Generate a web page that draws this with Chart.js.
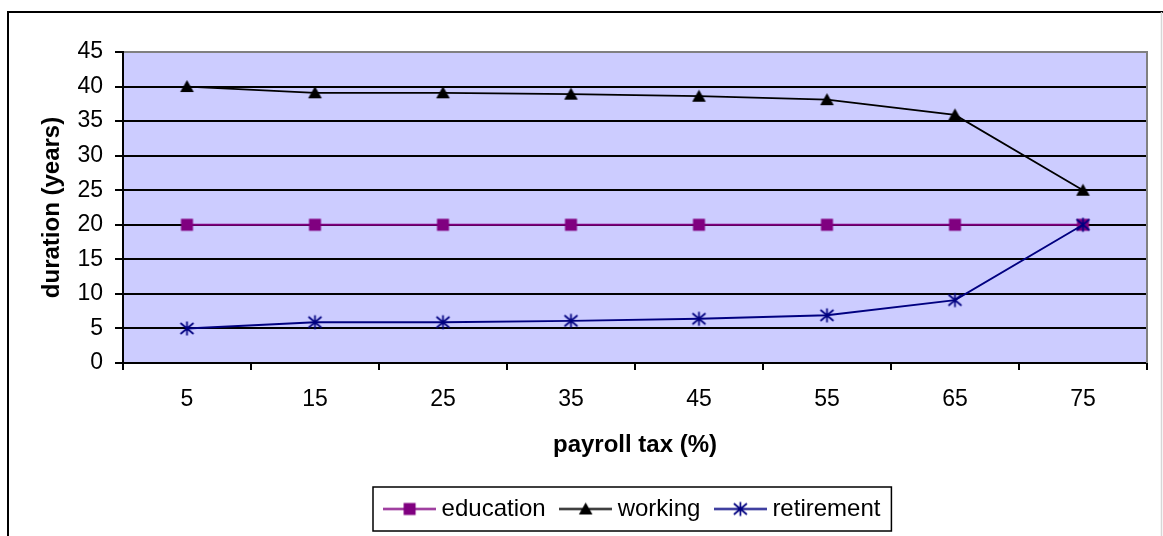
<!DOCTYPE html>
<html>
<head>
<meta charset="utf-8">
<script src="https://cdn.jsdelivr.net/npm/chart.js@4/dist/chart.umd.min.js"></script>
<style>
  html, body { margin: 0; padding: 0; background: #fff; }
  canvas { display: block; }
</style>
</head>
<body>
<canvas id="c" width="1163" height="536"></canvas>
<script>
// Payroll tax rate (%) on the category axis
const categories = ['5', '15', '25', '35', '45', '55', '65', '75'];

// Duration of each life phase, in years
const education  = [20, 20, 20, 20, 20, 20, 20, 20];
const working    = [40, 39.1, 39.1, 38.9, 38.6, 38.1, 35.9, 25];
const retirement = [5, 5.9, 5.9, 6.1, 6.4, 6.9, 9.1, 20];

// Value axis ticks
const yMin = 0, yMax = 45, yStep = 5;

const COL_EDU = '#800080';
const COL_WORK = '#000000';
const COL_RET = '#000080';

// Marker painters (centred at cx, cy)
function paintSquare(g, cx, cy) {
  g.fillStyle = COL_EDU;
  g.fillRect(cx - 6, cy - 6, 12, 12);
}
function paintTriangle(g, cx, cy) {
  g.fillStyle = COL_WORK;
  g.beginPath();
  g.moveTo(cx, cy - 6.5);
  g.lineTo(cx + 6.8, cy + 5.5);
  g.lineTo(cx - 6.8, cy + 5.5);
  g.closePath();
  g.fill();
}
function paintAsterisk(g, cx, cy) {
  g.strokeStyle = COL_RET;
  g.lineWidth = 1.7;
  g.beginPath();
  g.moveTo(cx, cy - 7); g.lineTo(cx, cy + 7);
  g.moveTo(cx - 6.5, cy - 5.5); g.lineTo(cx + 6.5, cy + 5.5);
  g.moveTo(cx + 6.5, cy - 5.5); g.lineTo(cx - 6.5, cy + 5.5);
  g.stroke();
}

function markerCanvas(paint) {
  const cv = document.createElement('canvas');
  cv.width = 17; cv.height = 17;
  paint(cv.getContext('2d'), 8.5, 8.5);
  return cv;
}
function legendCanvas(paint, color) {
  const cv = document.createElement('canvas');
  cv.width = 53; cv.height = 17;
  const g = cv.getContext('2d');
  g.strokeStyle = color;
  g.lineWidth = 2;
  g.beginPath(); g.moveTo(0, 8.5); g.lineTo(53, 8.5); g.stroke();
  paint(g, 26.5, 8.5);
  return cv;
}

const markers = {
  education: markerCanvas(paintSquare),
  working: markerCanvas(paintTriangle),
  retirement: markerCanvas(paintAsterisk)
};
const legendIcons = {
  education: legendCanvas(paintSquare, COL_EDU),
  working: legendCanvas(paintTriangle, COL_WORK),
  retirement: legendCanvas(paintAsterisk, COL_RET)
};

Chart.defaults.font.family = '"Liberation Sans", Arial, sans-serif';
Chart.defaults.font.size = 23;
Chart.defaults.color = '#000';

// Page frame, plot background, plot edge and the legend box
const framePlugin = {
  id: 'frame',
  beforeDraw(chart) {
    const { ctx, chartArea: a, width, height } = chart;
    ctx.save();
    ctx.fillStyle = '#fff';
    ctx.fillRect(0, 0, width, height);
    ctx.fillStyle = '#CCCCFF';
    ctx.fillRect(a.left, a.top, a.right - a.left, a.bottom - a.top);
    ctx.strokeStyle = '#000';
    ctx.lineWidth = 2;
    ctx.beginPath();
    ctx.moveTo(8, height); ctx.lineTo(8, 12); ctx.lineTo(width, 12);
    ctx.stroke();
    ctx.strokeStyle = '#d6d6d6';
    ctx.lineWidth = 1.5;
    ctx.beginPath();
    ctx.moveTo(1161.5, 12); ctx.lineTo(1161.5, height);
    ctx.stroke();
    ctx.restore();
  },
  beforeDatasetsDraw(chart) {
    const { ctx, chartArea: a } = chart;
    ctx.save();
    ctx.strokeStyle = '#808080';
    ctx.lineWidth = 2;
    ctx.beginPath();
    ctx.moveTo(a.right, a.top - 1); ctx.lineTo(a.right, a.bottom);
    ctx.stroke();
    ctx.restore();
  },
  afterDraw(chart) {
    const hb = chart.legend && chart.legend.legendHitBoxes;
    if (!hb || !hb.length) return;
    const first = hb[0], last = hb[hb.length - 1];
    const cy = first.top + first.height / 2;
    const ctx = chart.ctx;
    ctx.save();
    ctx.strokeStyle = '#000';
    ctx.lineWidth = 1.5;
    const left = 373, right = last.left + last.width + 11;
    ctx.strokeRect(Math.min(left, first.left - 16), cy - 22, right - Math.min(left, first.left - 16), 44);
    ctx.restore();
  }
};

new Chart(document.getElementById('c'), {
  type: 'line',
  data: {
    labels: categories,
    datasets: [
      {
        label: 'education', data: education, order: 2,
        borderColor: COL_EDU, borderWidth: 2, tension: 0, fill: false,
        pointStyle: markers.education, pointRadius: 6, pointHoverRadius: 6
      },
      {
        label: 'working', data: working, order: 1,
        borderColor: COL_WORK, borderWidth: 1.75, tension: 0, fill: false,
        pointStyle: markers.working, pointRadius: 6, pointHoverRadius: 6
      },
      {
        label: 'retirement', data: retirement, order: 0,
        borderColor: COL_RET, borderWidth: 1.9, tension: 0, fill: false,
        pointStyle: markers.retirement, pointRadius: 6, pointHoverRadius: 6
      }
    ]
  },
  options: {
    responsive: false,
    animation: false,
    devicePixelRatio: 1,
    events: [],
    layout: { padding: { left: 0, top: 52, right: 16, bottom: 5 } },
    plugins: {
      tooltip: { enabled: false },
      legend: {
        position: 'bottom',
        fullSize: false,
        labels: {
          usePointStyle: true,
          pointStyleWidth: 40,
          padding: 20,
          color: '#000',
          font: { size: 24 },
          generateLabels(chart) {
            return chart.data.datasets.map((ds, i) => ({
              text: ds.label,
              datasetIndex: i,
              pointStyle: legendIcons[ds.label],
              fillStyle: 'rgba(0,0,0,0)',
              strokeStyle: 'rgba(0,0,0,0)',
              lineWidth: 0,
              hidden: false,
              fontColor: '#000'
            }));
          }
        }
      }
    },
    scales: {
      x: {
        type: 'category',
        offset: true,
        grid: {
          offset: true, drawOnChartArea: false, drawTicks: true,
          tickLength: 7, color: '#000', lineWidth: 2
        },
        border: { color: '#000', width: 2 },
        ticks: { padding: 16, color: '#000', font: { size: 23 }, maxRotation: 0, autoSkip: false },
        title: {
          display: true, text: 'payroll tax (%)', color: '#000',
          font: { size: 24, weight: 'bold' }, padding: { top: 0, bottom: 17 }
        },
        afterFit(scale) { scale.height = 114; }
      },
      y: {
        min: yMin, max: yMax,
        ticks: { stepSize: yStep, padding: 12, color: '#000', font: { size: 23 } },
        grid: {
          color: (c) => (c.tick && c.tick.value === yMax ? '#808080' : '#000'),
          lineWidth: 2,
          tickColor: '#000', tickLength: 8
        },
        border: { color: '#000', width: 2 },
        title: {
          display: true, text: 'duration (years)', color: '#000',
          font: { size: 24, weight: 'bold' }, padding: { top: 38, bottom: 0 }
        },
        afterFit(scale) { scale.width = 123; }
      }
    }
  },
  plugins: [framePlugin]
});
</script>
</body>
</html>
